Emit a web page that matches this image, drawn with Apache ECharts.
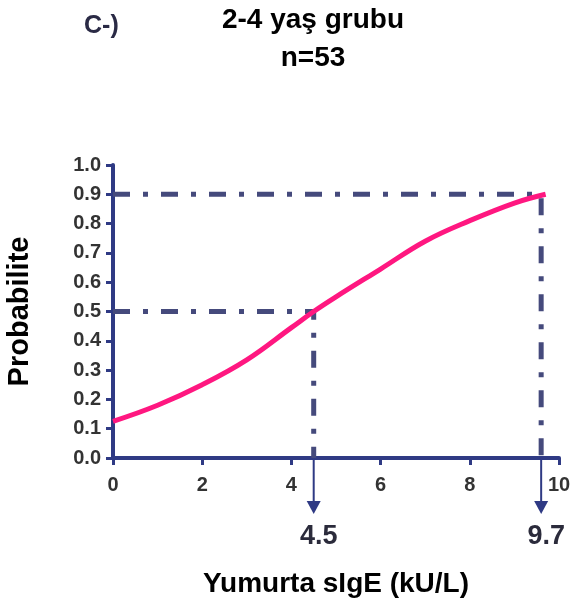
<!DOCTYPE html>
<html>
<head>
<meta charset="utf-8">
<script src="https://cdn.jsdelivr.net/npm/echarts@6/dist/echarts.min.js"></script>
<style>
  html, body { margin: 0; padding: 0; background: #fff; }
  #main { width: 573px; height: 603px; }
</style>
</head>
<body>
<div id="main"></div>
<script>
// curve
const sIgE = [0, 1, 2, 3, 4, 4.5, 5, 6, 7, 8, 9, 9.7];
const prob = [0.125, 0.18, 0.25, 0.335, 0.445, 0.5, 0.55, 0.645, 0.74, 0.81, 0.87, 0.9];

// cut-off guides: x where drawn, probability, label text
const cutX = [4.5, 9.6];
const cutY = [0.5, 0.9];
const cutLabels = ['4.5', '9.7'];

const NAVY = '#2f3a84';
const GUIDE = '#454a7c';
const FONT = '"Liberation Sans", Arial, sans-serif';

let chart = echarts.init(document.getElementById('main'));

let option = {
  animation: false,
  textStyle: {fontFamily: FONT},
  title: [
    {
      text: '2-4 yaş grubu\nn=53',
      left: 308, top: -4, textAlign: 'center',
      textStyle: {fontSize: 28, fontWeight: 'bold', color: '#000', lineHeight: 38, fontFamily: FONT}
    },
    {
      text: 'C-)',
      left: 79, top: 9,
      textStyle: {fontSize: 25, fontWeight: 'bold', color: '#2a2a45', fontFamily: FONT}
    }
  ],
  grid: {left: 113, right: 14, top: 165, bottom: 145, outerBoundsMode: 'none'},
  xAxis: {
    type: 'value', min: 0, max: 10, interval: 2,
    name: 'Yumurta sIgE (kU/L)',
    nameLocation: 'middle', nameGap: 112,
    nameTextStyle: {fontSize: 28, fontWeight: 'bold', color: '#000'},
    axisLine: {lineStyle: {color: NAVY, width: 4}},
    axisTick: {length: 7, lineStyle: {color: NAVY, width: 3}},
    axisLabel: {fontSize: 20, fontWeight: 'bold', color: '#333', margin: 17},
    splitLine: {show: false}
  },
  yAxis: {
    type: 'value', min: 0, max: 1, interval: 0.1,
    name: 'Probabilite',
    nameLocation: 'middle', nameGap: 79,
    nameTextStyle: {fontSize: 29, fontWeight: 'bold', color: '#000'},
    axisLine: {lineStyle: {color: NAVY, width: 4}},
    axisTick: {length: 7, lineStyle: {color: NAVY, width: 3}},
    axisLabel: {fontSize: 20, fontWeight: 'bold', color: '#333', margin: 12,
      formatter: v => v.toFixed(1)},
    splitLine: {show: false}
  },
  series: [
    {
      type: 'custom',
      data: cutX.map((x, i) => [x, cutY[i], cutLabels[i]]),
      z: 1,
      renderItem: function (params, api) {
        let x = api.value(0), y = api.value(1);
        let p0 = api.coord([0, y]);
        let p1 = api.coord([x, y]);
        let p2 = api.coord([x, 0]);
        let tipY = p2[1] + 56;
        return {
          type: 'group',
          children: [
            {
              type: 'polyline',
              shape: {points: [p0, p1, p2]},
              style: {stroke: GUIDE, lineWidth: 5, fill: null, lineDash: [17, 13, 5, 13]}
            },
            {
              type: 'line',
              shape: {x1: p2[0], y1: p2[1], x2: p2[0], y2: tipY - 8},
              style: {stroke: NAVY, lineWidth: 2}
            },
            {
              type: 'polygon',
              shape: {points: [[p2[0] - 7, tipY - 13], [p2[0] + 7, tipY - 13], [p2[0], tipY]]},
              style: {fill: NAVY}
            },
            {
              type: 'text',
              x: p2[0] + 5, y: tipY + 36,
              style: {
                text: api.value(2), fontSize: 27, fontWeight: 'bold', fontFamily: FONT,
                fill: '#2b2b3b', align: 'center', verticalAlign: 'bottom'
              }
            }
          ]
        };
      }
    },
    {
      type: 'line',
      data: sIgE.map((x, i) => [x, prob[i]]),
      smooth: 0.4,
      showSymbol: false,
      z: 3,
      lineStyle: {color: '#ff1780', width: 5}
    }
  ]
};

chart.setOption(option);
</script>
</body>
</html>
